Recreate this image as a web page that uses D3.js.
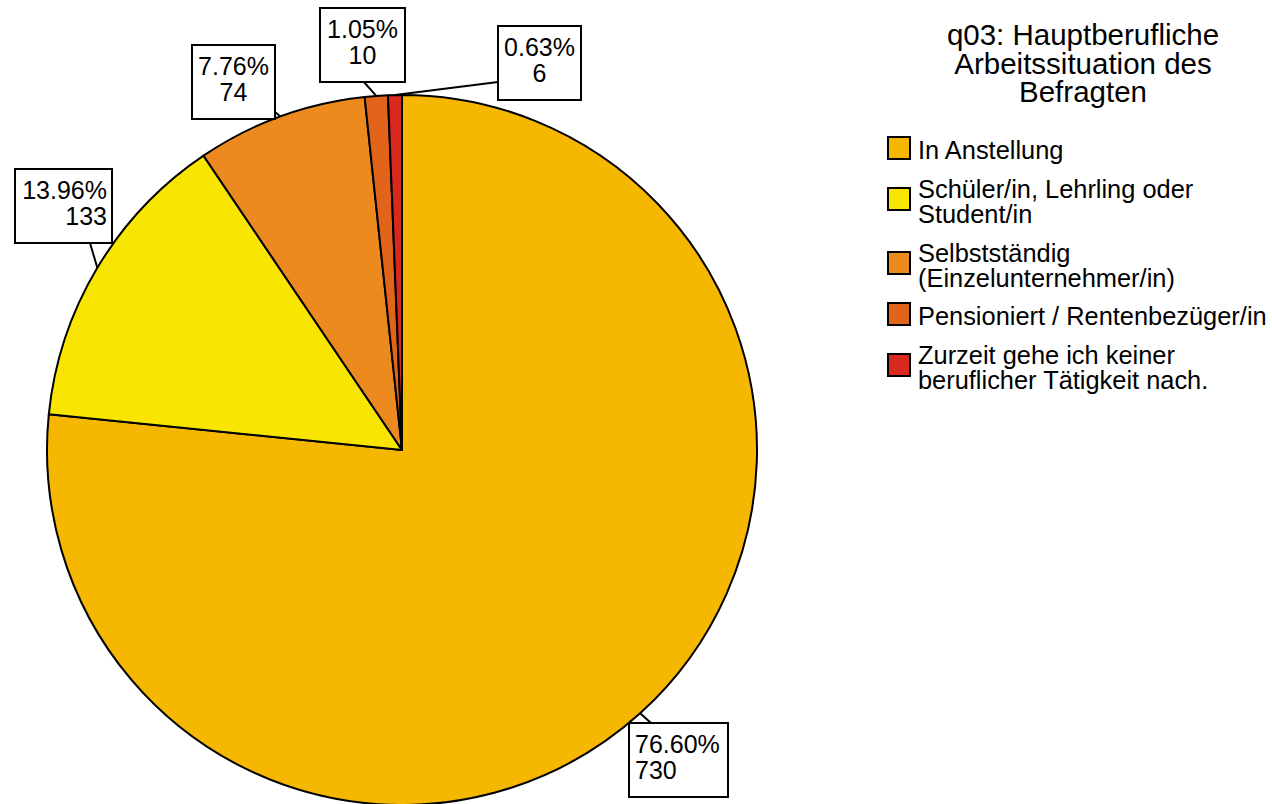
<!DOCTYPE html>
<html><head><meta charset="utf-8">
<script src="https://cdn.jsdelivr.net/npm/d3@7"></script>
<style>
html,body{margin:0;padding:0;background:#fff;}
svg{display:block;font-family:"Liberation Sans",Arial,Helvetica,sans-serif;}
</style></head>
<body>
<svg id="chart" width="1272" height="804"></svg>
<script>
// ---- data ----
const categories = ["In Anstellung", "Schüler/in, Lehrling oder Student/in", "Selbstständig (Einzelunternehmer/in)", "Pensioniert / Rentenbezüger/in", "Zurzeit gehe ich keiner beruflicher Tätigkeit nach."];
const legendLines = [["In Anstellung"], ["Schüler/in, Lehrling oder", "Student/in"], ["Selbstständig", "(Einzelunternehmer/in)"], ["Pensioniert / Rentenbezüger/in"], ["Zurzeit gehe ich keiner", "beruflicher Tätigkeit nach."]];
const counts = [730, 133, 74, 10, 6];
const colors = ["#F5B700", "#F9E600", "#EC8A1F", "#E2641A", "#D9281E"];
const titleLines = ["q03: Hauptberufliche", "Arbeitssituation des", "Befragten"];

// ---- layout (annotation boxes) ----
const labelLayout = [
  {x: 629, y: 723, w: 99, align: "start", ax: 651, ay: 723},
  {x: 15,  y: 169, w: 97, align: "end",   ax: 90,  ay: 243},
  {x: 192, y: 45,  w: 83, align: "middle",ax: 275, ay: 112},
  {x: 320, y: 8,   w: 85, align: "middle",ax: 363, ay: 81},
  {x: 498, y: 26,  w: 83, align: "middle",ax: 498, ay: 82}
];

const svg = d3.select("#chart");
const cx = 402, cy = 450, R = 355;
const total = d3.sum(counts);
const data = counts.map((v, i) => ({cat: categories[i], v, i}));

const pie = d3.pie().value(d => d.v).sort(null).startAngle(0).endAngle(2 * Math.PI);
const arc = d3.arc().innerRadius(0).outerRadius(R);
const edgeArc = d3.arc().innerRadius(R).outerRadius(R);
const arcs = pie(data);
const color = d3.scaleOrdinal().domain(categories).range(colors);

const g = svg.append("g").attr("transform", `translate(${cx},${cy})`);
g.selectAll("path.slice").data(arcs).join("path")
  .attr("class", "slice")
  .attr("d", arc)
  .attr("fill", d => color(d.data.cat))
  .attr("stroke", "#000").attr("stroke-width", 2).attr("stroke-linejoin", "round");

// labels
const fmt = d3.format(".2f");
const lab = svg.append("g");
arcs.forEach((a, i) => {
  const L = labelLayout[i];
  const p = edgeArc.centroid(a);
  lab.append("line")
    .attr("x1", cx + p[0]).attr("y1", cy + p[1])
    .attr("x2", L.ax).attr("y2", L.ay)
    .attr("stroke", "#000").attr("stroke-width", 2);
  const h = 74;
  lab.append("rect").attr("x", L.x).attr("y", L.y).attr("width", L.w).attr("height", h)
    .attr("fill", "#fff").attr("stroke", "#000").attr("stroke-width", 2);
  const tx = L.align === "start" ? L.x + 6 : L.align === "end" ? L.x + L.w - 5 : L.x + L.w / 2;
  const lines = [fmt(a.data.v / total * 100) + "%", String(a.data.v)];
  const t = lab.append("text").attr("x", tx).attr("y", L.y + 30)
    .attr("text-anchor", L.align).attr("font-size", 25).attr("fill", "#000");
  lines.forEach((s, k) => {
    t.append("tspan").attr("x", tx).attr("dy", k === 0 ? 0 : 26).text(s);
  });
});

// legend title
const leg = svg.append("g");
const tt = leg.append("text").attr("x", 1083).attr("y", 45)
  .attr("text-anchor", "middle").attr("font-size", 29.5).attr("fill", "#000");
titleLines.forEach((s, k) => {
  tt.append("tspan").attr("x", 1083).attr("dy", k === 0 ? 0 : 28.5).text(s);
});
// legend entries
const swTops = [137, 188, 252, 303, 354];
legendLines.forEach((lines, i) => {
  leg.append("rect").attr("x", 888).attr("y", swTops[i]).attr("width", 22).attr("height", 22)
    .attr("fill", color(categories[i])).attr("stroke", "#000").attr("stroke-width", 2);
  const base = lines.length === 1 ? swTops[i] + 22 : swTops[i] + 10;
  const t = leg.append("text").attr("x", 918).attr("y", base)
    .attr("font-size", 25.4).attr("fill", "#000");
  lines.forEach((s, k) => {
    t.append("tspan").attr("x", 918).attr("dy", k === 0 ? 0 : 25).text(s);
  });
});
</script>
</body></html>
